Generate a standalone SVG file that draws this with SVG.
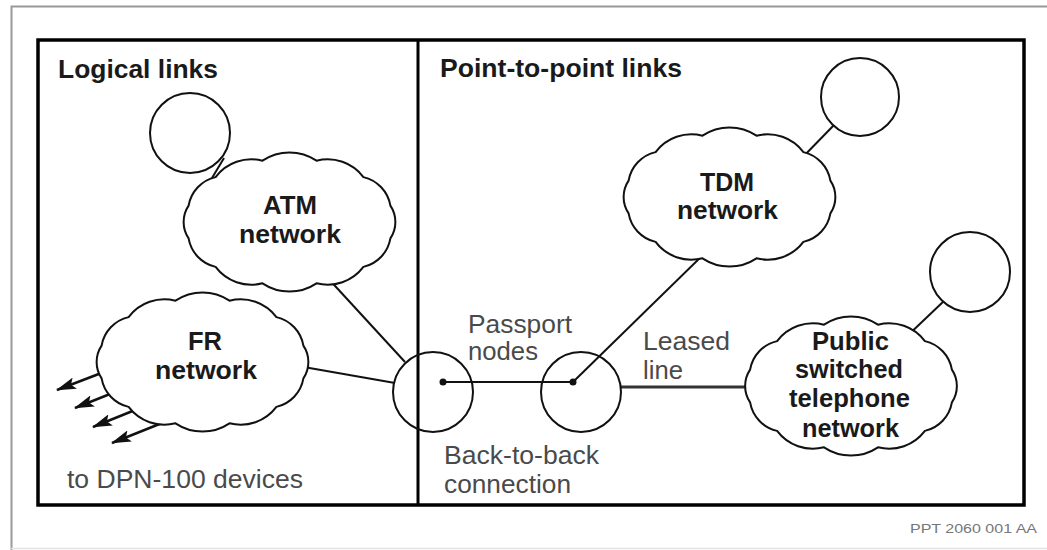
<svg xmlns="http://www.w3.org/2000/svg" xmlns:xlink="http://www.w3.org/1999/xlink" width="1047" height="550" viewBox="0 0 1047 550">
<style>
.frame{fill:none;stroke:#999;stroke-width:2}
.box{fill:none;stroke:#000;stroke-width:3.5}
.cloud{fill:#fff;stroke:#111;stroke-width:2}
.term{fill:#fff;stroke:#111;stroke-width:2}
.node{fill:none;stroke:#111;stroke-width:2}
.conn{stroke:#111;stroke-width:2;fill:none}
.arrow{stroke:#111;stroke-width:2.5;fill:none}
.lbl{font-family:"Liberation Sans",Arial,sans-serif;font-size:25px;fill:#4a4a4a}
.b{font-family:"Liberation Sans",Arial,sans-serif;font-size:25px;font-weight:bold;fill:#1a1a1a}
.small{font-family:"Liberation Sans",Arial,sans-serif;font-size:13px;fill:#777}
</style>
<defs>
<path id="cloudshape" d="M 100.9,-16.4 A 29.5 29.5 0 0 1 100.9,16.4 A 35.4 35.4 0 0 1 73.9,44.9 A 44.7 44.7 0 0 1 27,61.3 A 48.6 48.6 0 0 1 -27,61.3 A 44.7 44.7 0 0 1 -73.9,44.9 A 35.4 35.4 0 0 1 -100.9,16.4 A 29.5 29.5 0 0 1 -100.9,-16.4 A 35.4 35.4 0 0 1 -73.9,-44.9 A 44.7 44.7 0 0 1 -27,-61.3 A 48.6 48.6 0 0 1 27,-61.3 A 44.7 44.7 0 0 1 73.9,-44.9 A 35.4 35.4 0 0 1 100.9,-16.4 Z"/>
<marker id="arr" viewBox="0 0 20 12" refX="19" refY="6" markerWidth="20" markerHeight="12" markerUnits="userSpaceOnUse" orient="auto">
<path d="M0,0 L20,6 L0,12 L4,6 Z" fill="#111"/>
</marker>
</defs>
<rect width="1047" height="550" fill="#fff"/>
<g id="frame">
<path class="frame" d="M11.5,550 V6.5 H1047"/>
<path d="M11,548.5 H1047" stroke="#e4e4e4" stroke-width="1.5" fill="none"/>
<rect class="box" x="38" y="40" width="986" height="465"/>
<line x1="418" y1="40" x2="418" y2="505" stroke="#000" stroke-width="3"/>
</g>
<g id="connectors">
<line class="conn" x1="224" y1="158" x2="212" y2="178"/>
<line class="conn" x1="325" y1="275" x2="405" y2="362"/>
<line class="conn" x1="298" y1="366" x2="395" y2="383"/>
<line class="conn" x1="443" y1="382" x2="573" y2="382"/>
<line class="conn" x1="573" y1="382" x2="705" y2="253"/>
<line x1="621" y1="387" x2="752" y2="387" stroke="#333" stroke-width="3"/>
<line class="conn" x1="835" y1="124" x2="798" y2="162"/>
<line class="conn" x1="945" y1="300" x2="903" y2="340"/>
<line class="arrow" x1="104" y1="372" x2="57" y2="390" marker-end="url(#arr)"/>
<line class="arrow" x1="120" y1="390" x2="75" y2="408" marker-end="url(#arr)"/>
<line class="arrow" x1="140" y1="408" x2="93" y2="427" marker-end="url(#arr)"/>
<line class="arrow" x1="172" y1="419" x2="112" y2="443" marker-end="url(#arr)"/>
</g>
<g id="titles">
<text class="b" x="58" y="78" textLength="160" lengthAdjust="spacingAndGlyphs">Logical links</text>
<text class="b" x="440" y="77" textLength="242" lengthAdjust="spacingAndGlyphs">Point-to-point links</text>
</g>
<g id="atm-terminal"><circle class="term" cx="190" cy="133" r="40"/></g>
<g id="atm-network">
<use xlink:href="#cloudshape" href="#cloudshape" class="cloud" x="289.5" y="222"/>
<text class="b" x="263" y="214" textLength="54" lengthAdjust="spacingAndGlyphs">ATM</text>
<text class="b" x="239" y="243" textLength="102" lengthAdjust="spacingAndGlyphs">network</text>
</g>
<g id="fr-network">
<use xlink:href="#cloudshape" href="#cloudshape" class="cloud" x="202.5" y="362"/>
<text class="b" x="188" y="350" textLength="34" lengthAdjust="spacingAndGlyphs">FR</text>
<text class="b" x="155" y="379" textLength="102" lengthAdjust="spacingAndGlyphs">network</text>
</g>
<g id="dpn-label">
<text class="lbl" x="67" y="488" textLength="236" lengthAdjust="spacingAndGlyphs">to DPN-100 devices</text>
</g>
<g id="passport-node-1">
<circle class="node" cx="433" cy="392" r="40"/>
<circle cx="443" cy="382" r="3.5" fill="#111"/>
</g>
<g id="passport-node-2">
<circle class="node" cx="581" cy="392" r="40"/>
<circle cx="573" cy="382" r="3.5" fill="#111"/>
</g>
<g id="passport-label">
<text class="lbl" x="468" y="333" textLength="104" lengthAdjust="spacingAndGlyphs">Passport</text>
<text class="lbl" x="468" y="360" textLength="70" lengthAdjust="spacingAndGlyphs">nodes</text>
</g>
<g id="b2b-label">
<text class="lbl" x="444" y="464" textLength="155" lengthAdjust="spacingAndGlyphs">Back-to-back</text>
<text class="lbl" x="444" y="493" textLength="127" lengthAdjust="spacingAndGlyphs">connection</text>
</g>
<g id="leased-label">
<text class="lbl" x="643" y="350" textLength="87" lengthAdjust="spacingAndGlyphs">Leased</text>
<text class="lbl" x="643" y="379" textLength="40" lengthAdjust="spacingAndGlyphs">line</text>
</g>
<g id="tdm-terminal"><circle class="term" cx="860" cy="97" r="39"/></g>
<g id="tdm-network">
<use xlink:href="#cloudshape" href="#cloudshape" class="cloud" x="729.5" y="197"/>
<text class="b" x="700" y="191" textLength="54" lengthAdjust="spacingAndGlyphs">TDM</text>
<text class="b" x="677" y="219" textLength="101" lengthAdjust="spacingAndGlyphs">network</text>
</g>
<g id="pstn-terminal"><circle class="term" cx="970" cy="272" r="40"/></g>
<g id="pstn-network">
<use xlink:href="#cloudshape" href="#cloudshape" class="cloud" x="851" y="386"/>
<text class="b" x="812" y="350" textLength="77" lengthAdjust="spacingAndGlyphs">Public</text>
<text class="b" x="795" y="378" textLength="108" lengthAdjust="spacingAndGlyphs">switched</text>
<text class="b" x="789" y="407" textLength="121" lengthAdjust="spacingAndGlyphs">telephone</text>
<text class="b" x="802" y="437" textLength="97" lengthAdjust="spacingAndGlyphs">network</text>
</g>
<g id="figure-id">
<text class="small" x="910" y="533" textLength="127" lengthAdjust="spacingAndGlyphs">PPT 2060 001 AA</text>
</g>
</svg>
